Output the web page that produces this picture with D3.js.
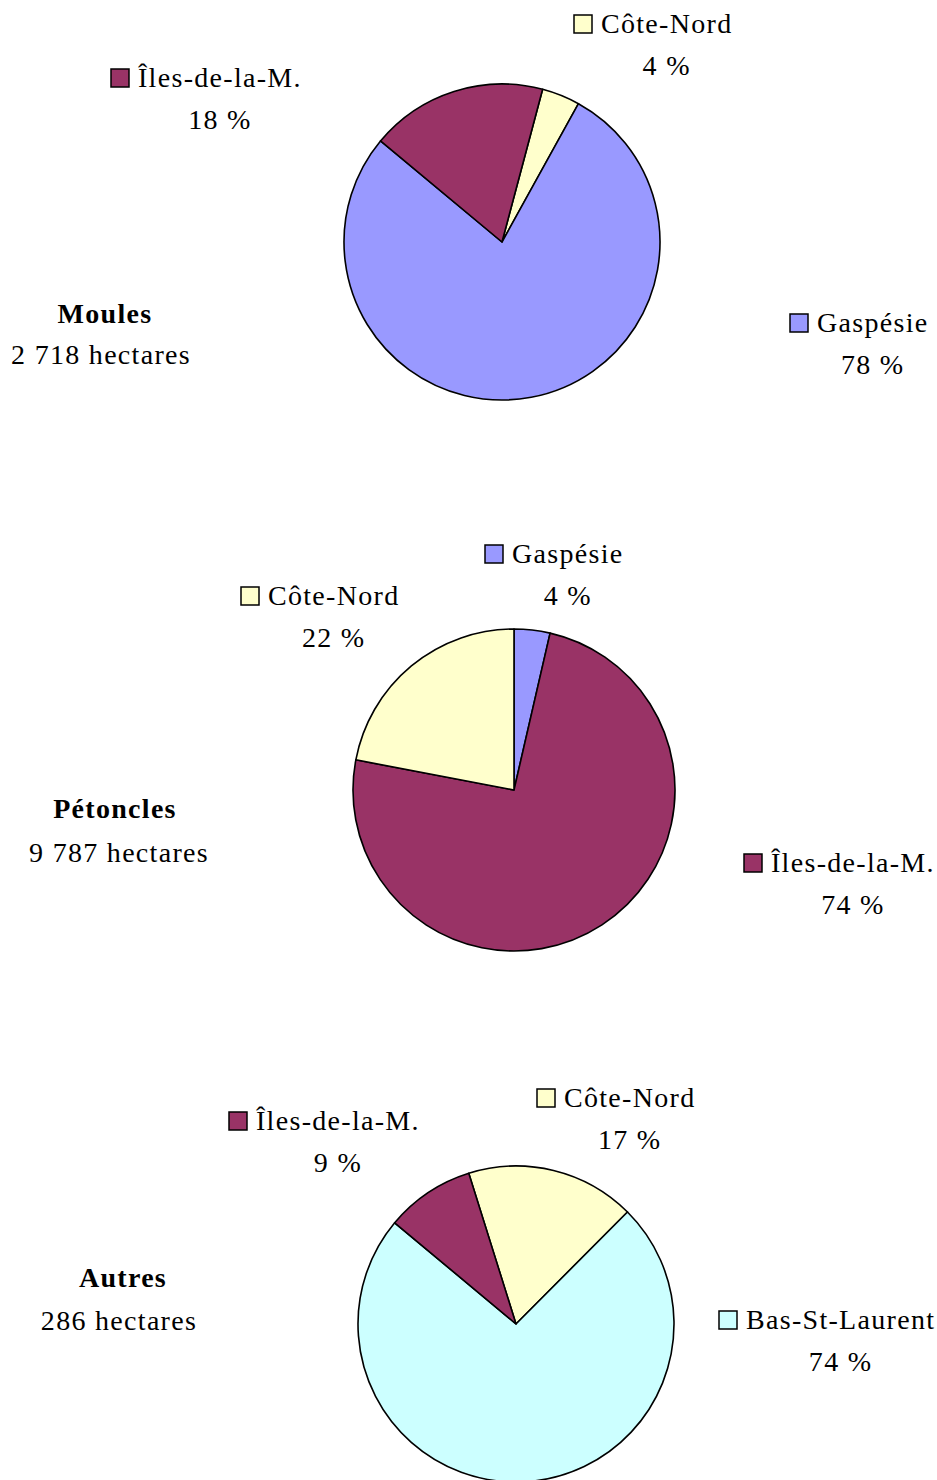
<!DOCTYPE html>
<html>
<head>
<meta charset="utf-8">
<script src="https://cdn.jsdelivr.net/npm/d3@7"></script>
<style>
  body { margin: 0; background: #fff; }
  text { font-family: "Liberation Serif", "Times New Roman", serif; font-size: 28px; letter-spacing: 1.3px; fill: #000; }
  .title { font-weight: bold; }
</style>
</head>
<body>
<div class="svg"></div>
<script>
window.onload = function() {

  var d3 = window.d3;
  var w = 937;
  var h = 1480;

  // data (percent of area, clockwise from each chart's start angle)
  var titles = ["Moules", "Pétoncles", "Autres"];
  var areas = ["2 718 hectares", "9 787 hectares", "286 hectares"];
  var regions1 = ["Côte-Nord", "Gaspésie", "Îles-de-la-M."];
  var values1 = [3.9, 78.0, 18.1];
  var regions2 = ["Gaspésie", "Îles-de-la-M.", "Côte-Nord"];
  var values2 = [3.6, 74.4, 22.0];
  var regions3 = ["Côte-Nord", "Bas-St-Laurent", "Îles-de-la-M."];
  var values3 = [17.3, 73.6, 9.1];

  var color = d3.scaleOrdinal()
    .domain(["Gaspésie", "Îles-de-la-M.", "Côte-Nord", "Bas-St-Laurent"])
    .range(["#9999ff", "#993366", "#ffffcc", "#ccffff"]);

  // layout of each chart
  var charts = [
    { regions: regions1, values: values1, cx: 502, cy: 242, r: 158, start: 14.9,
      title: [105, 323], area: [101, 364],
      labels: [[601, 33], [817, 332], [138, 87]] },
    { regions: regions2, values: values2, cx: 514, cy: 790, r: 161, start: 0,
      title: [115, 818], area: [119, 862],
      labels: [[512, 563], [771, 872], [268, 605]] },
    { regions: regions3, values: values3, cx: 516, cy: 1324, r: 158, start: -17.4,
      title: [123, 1287], area: [119, 1330],
      labels: [[564, 1107], [746, 1329], [256, 1130]] }
  ];

  var lineGap = 41.5;
  var fmt = function(v) { return Math.round(v) + " %"; };

  var svg = d3.select(".svg").append("svg").attr("width", w).attr("height", h);

  charts.forEach(function(c, i) {
    var rad = c.start * Math.PI / 180;
    var pie = d3.pie().sort(null).startAngle(rad).endAngle(rad + 2 * Math.PI);
    var arc = d3.arc().innerRadius(0).outerRadius(c.r);
    var slices = pie(c.values);

    var g = svg.append("g").attr("transform", "translate(" + c.cx + "," + c.cy + ")");
    g.selectAll("path")
      .data(slices)
      .enter()
      .append("path")
      .attr("d", arc)
      .attr("fill", function(d, j) { return color(c.regions[j]); })
      .attr("stroke", "#000")
      .attr("stroke-width", 1.6)
      .attr("stroke-linejoin", "round");

    svg.append("text").attr("class", "title")
      .attr("x", c.title[0]).attr("y", c.title[1])
      .attr("text-anchor", "middle").text(titles[i]);
    svg.append("text")
      .attr("x", c.area[0]).attr("y", c.area[1])
      .attr("text-anchor", "middle").text(areas[i]);

    c.regions.forEach(function(name, j) {
      var x = c.labels[j][0];
      var y = c.labels[j][1];
      svg.append("rect")
        .attr("x", x - 27).attr("y", y - 18)
        .attr("width", 18).attr("height", 18)
        .attr("fill", color(name))
        .attr("stroke", "#000").attr("stroke-width", 1.5);
      var t = svg.append("text").attr("x", x).attr("y", y).text(name);
      var len = t.node().getComputedTextLength();
      svg.append("text")
        .attr("x", x + len / 2).attr("y", y + lineGap)
        .attr("text-anchor", "middle")
        .text(fmt(c.values[j]));
    });
  });
}
</script>
</body>
</html>
